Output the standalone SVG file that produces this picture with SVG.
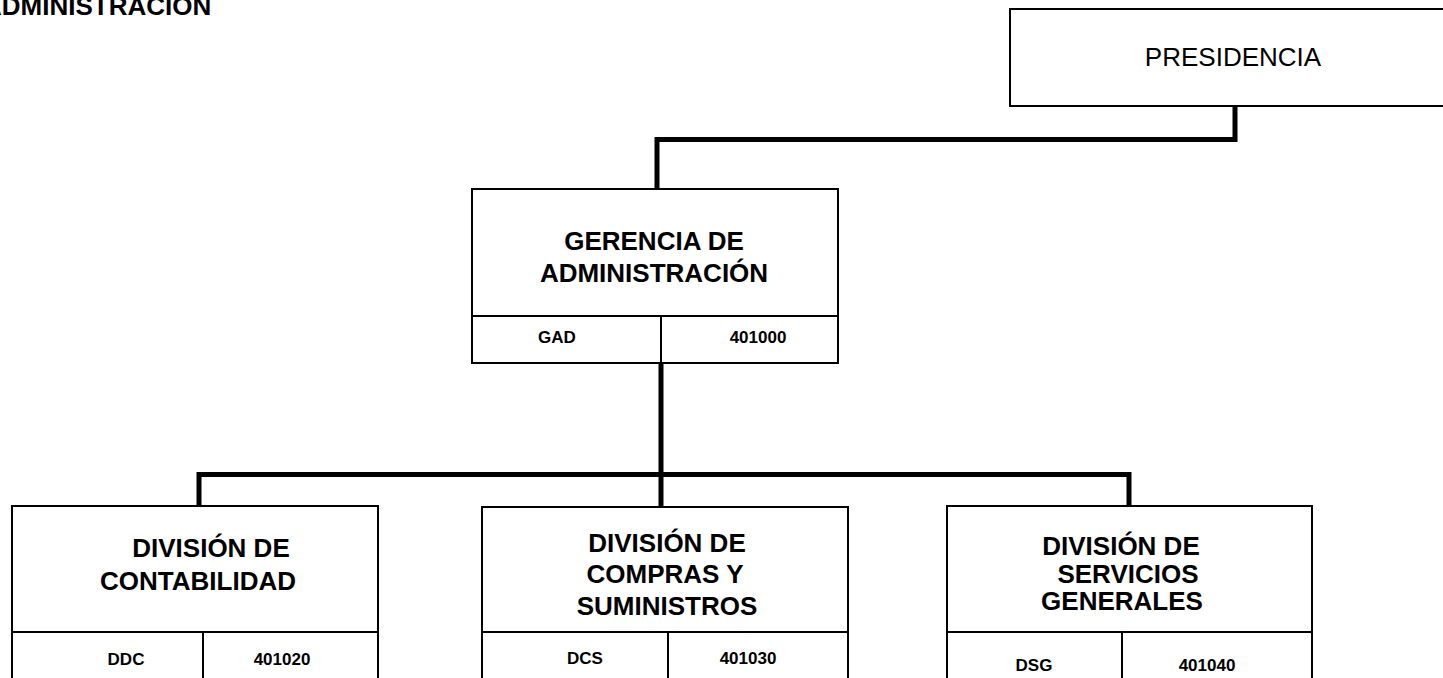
<svg xmlns="http://www.w3.org/2000/svg" width="1443" height="678" viewBox="0 0 1443 678">
<style>
.box{fill:#fff;stroke:#000;stroke-width:2}
.div{stroke:#000;stroke-width:2;fill:none}
.conn{stroke:#000;stroke-width:5;fill:none;stroke-linejoin:miter;stroke-linecap:square}
.big{font-family:"Liberation Sans",Arial,sans-serif;font-size:26px;font-weight:bold;text-anchor:middle;fill:#000}
.reg{font-family:"Liberation Sans",Arial,sans-serif;font-size:26px;text-anchor:middle;fill:#000}
.small{font-family:"Liberation Sans",Arial,sans-serif;font-size:17px;font-weight:bold;text-anchor:middle;fill:#000}
</style>
<rect width="1443" height="678" fill="#fff"/>
<text x="-17" y="15" font-family="'Liberation Sans',Arial,sans-serif" font-size="26" font-weight="bold" fill="#000">ADMINISTRACION</text>
<g id="connectors">
<path class="conn" d="M1235 107 V139.5 H657 V188"/>
<path class="conn" d="M661 364 V506"/>
<path class="conn" d="M199 505 V474.5 H1129 V505"/>
</g>
<g id="presidencia">
<rect class="box" x="1010" y="9" width="450" height="97"/>
<text class="reg" x="1233" y="66">PRESIDENCIA</text>
</g>
<g id="gad">
<rect class="box" x="472" y="189" width="366" height="174"/>
<line class="div" x1="472" y1="316" x2="838" y2="316"/>
<line class="div" x1="661" y1="316" x2="661" y2="363"/>
<text class="big" x="654" y="250">GERENCIA DE</text>
<text class="big" x="654" y="282">ADMINISTRACIÓN</text>
<text class="small" x="557" y="343">GAD</text>
<text class="small" x="758" y="343">401000</text>
</g>
<g id="ddc">
<rect class="box" x="12" y="506" width="366" height="200"/>
<line class="div" x1="12" y1="632" x2="378" y2="632"/>
<line class="div" x1="203" y1="632" x2="203" y2="706"/>
<text class="big" x="211" y="557">DIVISIÓN DE</text>
<text class="big" x="198" y="590">CONTABILIDAD</text>
<text class="small" x="126" y="665">DDC</text>
<text class="small" x="282" y="665">401020</text>
</g>
<g id="dcs">
<rect class="box" x="482" y="507" width="366" height="200"/>
<line class="div" x1="482" y1="632" x2="848" y2="632"/>
<line class="div" x1="668" y1="632" x2="668" y2="707"/>
<text class="big" x="667" y="552">DIVISIÓN DE</text>
<text class="big" x="665" y="583">COMPRAS Y</text>
<text class="big" x="667" y="615">SUMINISTROS</text>
<text class="small" x="585" y="664">DCS</text>
<text class="small" x="748" y="664">401030</text>
</g>
<g id="dsg">
<rect class="box" x="947" y="506" width="365" height="200"/>
<line class="div" x1="947" y1="632" x2="1312" y2="632"/>
<line class="div" x1="1122" y1="632" x2="1122" y2="706"/>
<text class="big" x="1121" y="555">DIVISIÓN DE</text>
<text class="big" x="1128" y="583">SERVICIOS</text>
<text class="big" x="1122" y="610">GENERALES</text>
<text class="small" x="1034" y="671">DSG</text>
<text class="small" x="1207" y="671">401040</text>
</g>
</svg>
